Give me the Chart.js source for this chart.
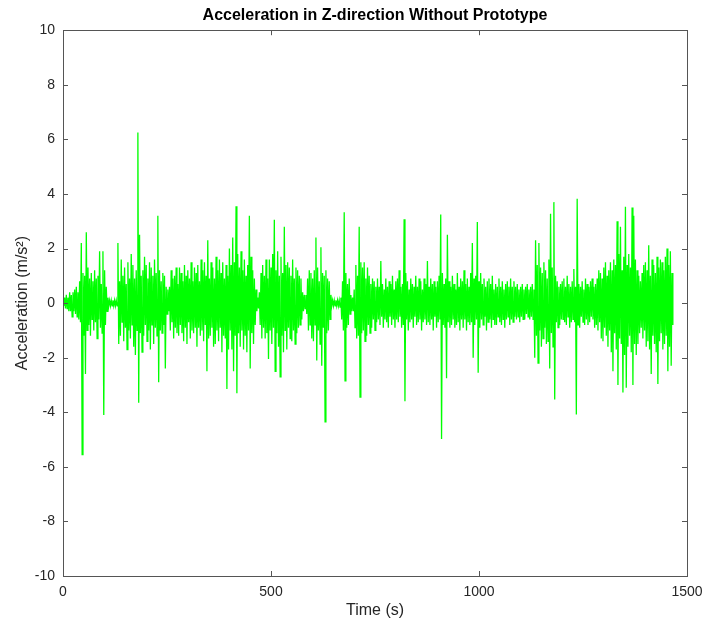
<!DOCTYPE html>
<html>
<head>
<meta charset="utf-8">
<script src="https://cdn.jsdelivr.net/npm/chart.js@4/dist/chart.umd.min.js"></script>
<style>
  html, body { margin: 0; padding: 0; background: #fff; }
  #wrap { width: 705px; height: 625px; position: relative; }
</style>
</head>
<body>
<div id="wrap"><canvas id="acc"></canvas></div>
<script>
// ---- data ----
const SAMPLE_DT = 2; // seconds between stored samples
const xTicks = [0, 500, 1000, 1500];
const yTicks = [-10, -8, -6, -4, -2, 0, 2, 4, 6, 8, 10];

// acceleration samples (m/s^2), one every SAMPLE_DT seconds, 20 per row (40 s)
const accel = [
  0.1, -0.1, 0.2, -0.2, 0.3, -0.2, 0.2, -0.3, 0.4, -0.3, 0.3, -0.5, 0.4, -0.3, 0.5, -0.4, 0.6, -0.5, 0.4, -0.6,
  0.8, -0.7, 2.2, -5.55, 1.1, -1.2, 1.0, -2.6, 2.6, -1.0, 1.3, -0.8, 0.9, -1.2, 1.1, -0.6, 0.8, -1.0, 1.2, -0.7,
  0.9, -1.3, 1.0, -0.6, 1.9, -0.9, 0.7, -1.1, 1.9, -4.1, 1.2, -0.8, 0.6, -0.3, 0.2, -0.1, 0.1, -0.1, 0.1, -0.1,
  0.1, -0.1, 0.1, -0.1, 0.1, -0.1, 2.2, -1.5, 0.8, -1.2, 1.6, -0.7, 1.0, -1.4, 1.3, -0.9, 0.7, -1.7, 1.5, -1.0,
  0.9, -1.3, 1.8, -0.8, 1.4, -1.6, 0.9, -1.9, 1.2, -1.0, 6.25, -3.65, 2.5, -1.1, 1.0, -1.8, 1.2, -1.2, 1.7, -0.8,
  1.4, -1.4, 0.9, -1.0, 1.5, -1.7, 1.3, -0.8, 1.0, -1.5, 1.6, -0.9, 1.1, -1.2, 3.2, -2.9, 1.2, -1.0, 0.8, -1.1,
  1.1, -0.8, 1.0, -2.4, 0.6, -0.4, 0.5, -0.3, 0.6, -1.0, 1.2, -0.7, 0.9, -1.3, 1.0, -0.9, 1.3, -1.1, 0.7, -1.2,
  1.3, -0.8, 1.1, -1.1, 0.8, -1.4, 1.4, -0.9, 1.0, -1.5, 1.2, -0.7, 0.9, -1.3, 1.5, -1.0, 0.8, -1.1, 1.3, -0.9,
  1.1, -1.6, 1.4, -0.9, 0.8, -1.2, 1.6, -1.0, 1.2, -1.4, 1.5, -0.8, 1.0, -2.5, 2.3, -1.3, 0.9, -1.2, 1.5, -0.9,
  1.3, -1.6, 0.9, -1.5, 1.7, -1.0, 1.2, -1.4, 1.6, -0.9, 1.1, -1.8, 1.5, -1.2, 0.9, -1.3, 1.4, -3.15, 1.0, -1.7,
  2.0, -1.0, 1.4, -1.7, 2.4, -2.5, 1.5, -1.2, 3.55, -3.3, 1.8, -1.1, 1.3, -1.6, 1.9, -1.0, 1.2, -1.7, 1.6, -1.2,
  1.0, -1.8, 1.4, -1.0, 3.2, -2.4, 1.7, -1.1, 1.2, -1.5, 0.9, -0.8, 0.5, -0.3, 0.2, -0.2, 0.4, -0.8, 1.1, -1.3,
  1.4, -0.9, 1.0, -1.3, 1.6, -1.1, 0.9, -2.05, 1.6, -1.0, 1.3, -1.5, 1.8, -0.9, 3.05, -2.5, 1.2, -1.1, 1.9, -1.6,
  1.0, -2.7, 1.7, -1.2, 1.1, -1.8, 2.8, -1.0, 1.4, -1.7, 1.5, -0.9, 1.3, -1.3, 1.0, -1.4, 1.6, -1.0, 0.9, -1.5,
  1.3, -1.1, 1.2, -0.9, 1.0, -0.8, 0.9, -0.6, 0.4, -0.3, 0.3, -0.2, 0.3, -0.4, 0.9, -1.0, 1.2, -0.8, 1.1, -1.3,
  0.9, -1.4, 1.2, -0.8, 2.4, -2.1, 1.3, -1.0, 0.8, -1.5, 2.05, -2.3, 1.1, -0.9, 1.0, -4.35, 1.2, -1.1, 0.9, -1.0,
  0.8, -0.6, 0.3, -0.1, 0.1, -0.1, 0.1, -0.1, 0.1, -0.1, 0.1, -0.1, 0.1, -0.15, 0.2, -0.6, 0.8, -1.0, 3.33, -2.85,
  1.1, -0.9, 0.7, -0.8, 0.9, -0.4, 0.3, -0.3, 0.2, -0.3, 0.5, -0.9, 1.4, -1.3, 1.0, -1.2, 2.8, -3.44, 1.5, -1.1,
  1.3, -1.0, 1.5, -1.4, 0.9, -1.2, 1.3, -0.8, 1.0, -1.1, 0.7, -0.9, 0.9, -0.6, 0.8, -1.0, 0.6, -0.7, 0.9, -0.6,
  0.6, -0.8, 1.54, -0.5, 0.7, -0.9, 0.5, -0.6, 0.9, -0.7, 0.6, -0.9, 0.8, -0.5, 0.7, -0.8, 1.0, -0.6, 0.5, -0.9,
  0.8, -0.6, 0.9, -0.7, 1.2, -0.5, 0.6, -0.9, 0.7, -0.8, 3.07, -3.6, 1.1, -0.6, 0.8, -1.0, 0.5, -0.7, 0.9, -0.6,
  0.7, -0.9, 0.6, -0.5, 1.0, -0.8, 0.6, -0.7, 0.9, -0.6, 0.8, -1.0, 0.5, -0.7, 0.9, -0.6, 0.7, -0.8, 1.54, -0.7,
  0.6, -0.8, 0.9, -0.6, 0.7, -1.0, 0.8, -0.5, 0.6, -0.9, 0.8, -0.7, 1.0, -0.6, 3.25, -4.98, 1.1, -0.8, 0.7, -0.9,
  0.9, -2.75, 2.5, -0.7, 0.8, -0.9, 0.6, -0.8, 1.0, -0.6, 0.7, -0.9, 0.5, -0.8, 1.1, -0.7, 0.6, -1.0, 0.9, -0.6,
  0.8, -0.9, 1.2, -0.6, 0.7, -1.0, 0.9, -0.7, 0.6, -0.8, 1.1, -0.7, 2.2, -2.0, 0.9, -0.8, 1.0, -0.6, 2.97, -2.55,
  0.8, -0.9, 1.1, -0.6, 0.7, -0.8, 0.9, -0.5, 0.6, -1.0, 0.8, -0.7, 0.9, -0.6, 0.7, -0.9, 1.0, -0.6, 0.5, -0.8,
  0.7, -0.8, 0.6, -0.5, 0.9, -0.7, 0.6, -0.8, 0.8, -0.6, 0.5, -0.9, 0.7, -0.6, 0.8, -0.5, 0.6, -0.8, 0.9, -0.6,
  0.6, -0.7, 0.8, -0.5, 0.6, -0.6, 0.7, -0.5, 0.5, -0.7, 0.6, -0.5, 0.7, -0.6, 0.5, -0.6, 0.6, -0.4, 0.7, -0.5,
  0.5, -0.6, 0.6, -0.5, 0.7, -0.6, 0.5, -2.0, 2.3, -1.2, 1.4, -2.2, 2.2, -1.0, 1.3, -1.6, 1.1, -1.3, 1.5, -0.9,
  1.2, -1.5, 0.9, -1.4, 1.6, -2.4, 3.27, -1.1, 1.3, -1.6, 3.7, -3.53, 1.0, -0.7, 0.8, -0.9, 0.6, -0.8, 0.7, -0.6,
  0.8, -0.6, 0.9, -0.7, 0.6, -0.8, 1.0, -0.5, 0.7, -0.9, 0.6, -0.7, 0.8, -0.6, 1.25, -0.7, 0.6, -4.08, 3.82, -0.8,
  0.7, -0.9, 0.6, -0.5, 0.8, -0.7, 0.5, -0.8, 0.9, -0.6, 0.7, -0.8, 0.6, -0.7, 0.8, -0.5, 0.9, -0.6, 0.6, -0.9,
  0.7, -0.8, 0.9, -1.0, 1.2, -0.7, 1.1, -1.3, 0.9, -1.4, 1.3, -0.9, 1.5, -1.2, 1.0, -1.6, 1.2, -1.0, 1.5, -1.8,
  1.2, -2.5, 1.6, -1.1, 1.4, -1.7, 3.0, -3.0, 1.8, -1.3, 2.8, -1.5, 1.2, -3.28, 1.7, -1.9, 3.53, -3.1, 1.4, -1.6,
  1.8, -1.2, 1.3, -1.8, 3.5, -3.0, 3.2, -1.5, 1.6, -1.9, 1.2, -1.5, 1.0, -1.1, 0.8, -0.9, 1.1, -1.3, 1.4, -1.0,
  1.5, -1.6, 1.2, -1.4, 2.12, -1.7, 1.0, -2.6, 1.6, -1.2, 1.4, -1.5, 1.1, -1.8, 1.7, -2.96, 1.3, -1.4, 1.6, -1.1,
  1.5, -1.7, 1.2, -1.5, 1.7, -1.2, 2.0, -2.5, 1.4, -1.6, 1.9, -2.3, 1.1, -0.8
];

const FONT = '"Liberation Sans", Arial, Helvetica, sans-serif';
const INK = '#262626';

// box around the axes with inward ticks on all four sides (matlab look)
const frameTicks = {
  id: 'frameTicks',
  afterDraw(chart) {
    const {ctx, chartArea: a, scales: {x, y}} = chart;
    const len = 5;
    ctx.save();
    ctx.strokeStyle = '#555';
    ctx.lineWidth = 1;
    ctx.beginPath();
    xTicks.forEach(v => {
      const px = Math.round(x.getPixelForValue(v)) + 0.5;
      ctx.moveTo(px, a.bottom); ctx.lineTo(px, a.bottom - len);
      ctx.moveTo(px, a.top); ctx.lineTo(px, a.top + len);
    });
    yTicks.forEach(v => {
      const py = Math.round(y.getPixelForValue(v)) + 0.5;
      ctx.moveTo(a.left, py); ctx.lineTo(a.left + len, py);
      ctx.moveTo(a.right, py); ctx.lineTo(a.right - len, py);
    });
    ctx.stroke();
    ctx.strokeRect(Math.round(a.left) + 0.5, Math.round(a.top) + 0.5,
      Math.round(a.right - a.left), Math.round(a.bottom - a.top));
    ctx.restore();
  }
};

new Chart(document.getElementById('acc'), {
  type: 'line',
  data: {
    datasets: [{
      label: 'Acceleration',
      data: accel.map((v, i) => ({x: i * SAMPLE_DT, y: v})),
      borderColor: '#00ff00',
      borderWidth: 1.3,
      pointRadius: 0,
      tension: 0,
      fill: false,
    }],
  },
  options: {
    responsive: true,
    maintainAspectRatio: false,
    animation: false,
    layout: {padding: {top: 0, right: 18, left: 0, bottom: 0}},
    plugins: {
      legend: {display: false},
      tooltip: {enabled: false},
      title: {
        display: true,
        fullSize: false,
        text: 'Acceleration in Z-direction Without Prototype',
        color: '#000',
        font: {family: FONT, size: 16, weight: 'bold'},
        padding: {top: 6, bottom: 5},
      },
    },
    scales: {
      x: {
        type: 'linear',
        min: 0, max: 1500,
        afterBuildTicks: s => { s.ticks = xTicks.map(v => ({value: v})); },
        afterFit: s => { s.height = 49; s.paddingRight = 18; },
        grid: {display: false, drawTicks: false},
        border: {display: false},
        ticks: {color: INK, font: {family: FONT, size: 14}, padding: 8, maxRotation: 0, callback: v => String(v)},
        title: {display: true, text: 'Time (s)', color: INK, font: {family: FONT, size: 16}, padding: {top: 0, bottom: 5}},
      },
      y: {
        min: -10, max: 10,
        afterBuildTicks: s => { s.ticks = yTicks.map(v => ({value: v})); },
        afterFit: s => { s.width = 63; },
        grid: {display: false, drawTicks: false},
        border: {display: false},
        ticks: {color: INK, font: {family: FONT, size: 14}, padding: 8, callback: v => String(v)},
        title: {display: true, text: 'Acceleration (m/s²)', color: INK, font: {family: FONT, size: 16}, padding: {top: 13, bottom: 0}},
      },
    },
  },
  plugins: [frameTicks],
});
</script>
</body>
</html>
